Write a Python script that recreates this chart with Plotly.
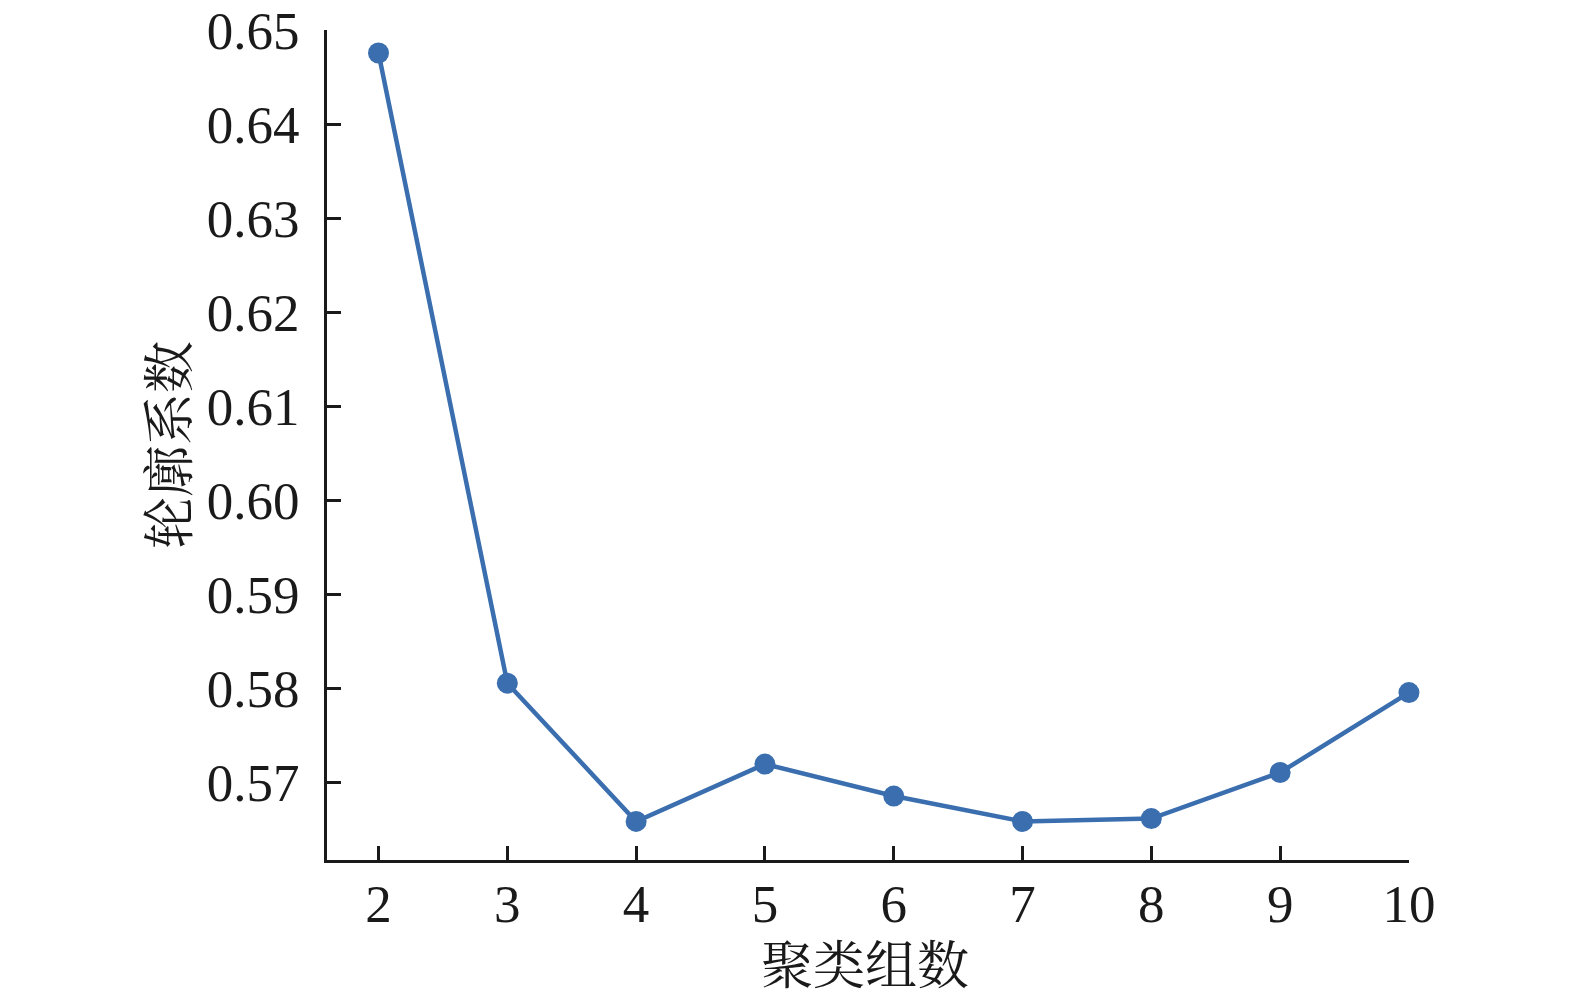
import plotly.graph_objects as go

clusters = [2, 3, 4, 5, 6, 7, 8, 9, 10]
silhouette = [0.6476, 0.5806, 0.5659, 0.5720, 0.5686, 0.5659, 0.5662, 0.5711, 0.5796]
y_ticks = [0.57, 0.58, 0.59, 0.60, 0.61, 0.62, 0.63, 0.64, 0.65]

fig = go.Figure()
fig.add_trace(go.Scatter(
    x=clusters, y=silhouette, mode="lines+markers",
    line=dict(color="#3a6eae", width=4.5),
    marker=dict(color="#3a6eae", size=21),
    cliponaxis=False,
    showlegend=False,
))

axis_font = dict(family="Liberation Serif, Times New Roman, serif", size=53, color="#1a1a1a")
cjk_font = dict(family="Noto Serif CJK SC, Noto Sans CJK SC, serif", size=52, color="#1a1a1a")

fig.update_layout(
    width=1575, height=997,
    paper_bgcolor="white", plot_bgcolor="white",
    margin=dict(l=319, r=174, t=22, b=145),
    xaxis=dict(
        range=[1.6, 10.0005], tickvals=clusters, ticktext=[str(c) for c in clusters],
        showline=True, linecolor="#1a1a1a", linewidth=3,
        ticks="inside", ticklen=14, tickwidth=3, tickcolor="#1a1a1a",
        showgrid=False, zeroline=False, tickfont=axis_font,
        ticklabelstandoff=-5, automargin=False, ticklabeloverflow="allow",
    ),
    yaxis=dict(
        range=[0.5618, 0.65005], tickvals=y_ticks, ticktext=[f"{v:.2f}" for v in y_ticks],
        showline=True, linecolor="#1a1a1a", linewidth=3,
        ticks="inside", ticklen=14, tickwidth=3, tickcolor="#1a1a1a",
        showgrid=False, zeroline=False, tickfont=axis_font,
        ticklabelstandoff=14, automargin=False, ticklabeloverflow="allow",
    ),
    annotations=[
        dict(text="聚类组数", xref="paper", yref="paper", x=0.497, y=0,
             xanchor="center", yanchor="middle", yshift=-101,
             showarrow=False, font=cjk_font),
        dict(text="轮廓系数", xref="paper", yref="paper", x=0, y=0.5,
             xanchor="center", yanchor="middle", xshift=-162, textangle=-90,
             showarrow=False, font=cjk_font),
    ],
)

fig.write_html("out.html")
